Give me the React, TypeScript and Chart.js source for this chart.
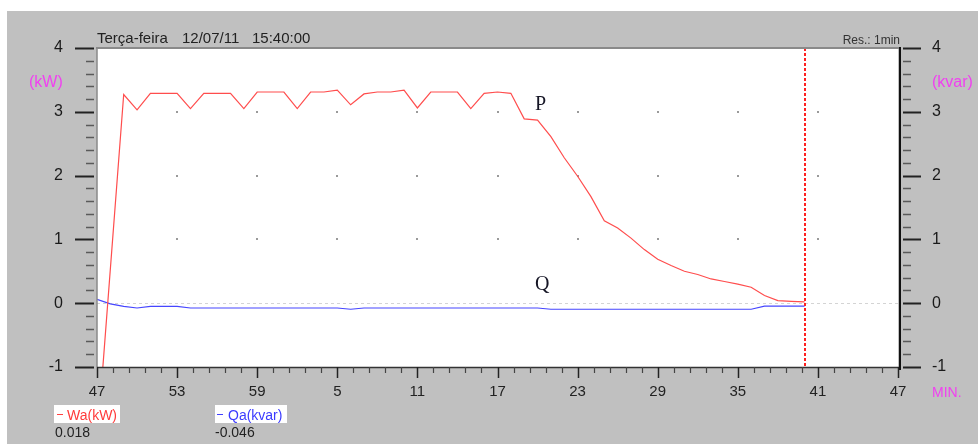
import React, { useEffect, useRef } from "react";
import { Chart, registerables } from "chart.js";

Chart.register(...registerables);

// minutes elapsed since 14:47 (axis runs 14:47 -> 15:47)
const X_START_LABEL = 47;
const X_SPAN = 60;
const X_STEP = 6;
const CURSOR_MIN = 53; // 15:40

const Y_MIN = -1;
const Y_MAX = 4;

// P (Wa, kW)
const P_MIN = [0, 2, 3, 4, 6, 7, 8, 10, 11, 12, 14, 15, 16, 17, 18, 19, 20, 21, 22, 23, 24, 25, 27, 28, 29, 30, 31, 32, 33, 34, 35, 36, 37, 38, 39, 40, 41, 42, 43, 44, 45, 46, 47, 48, 49, 50, 51, 52, 53];
const P_KW = [-2.2, 3.27, 3.03, 3.29, 3.29, 3.05, 3.29, 3.29, 3.05, 3.31, 3.31, 3.05, 3.31, 3.31, 3.34, 3.11, 3.28, 3.31, 3.31, 3.34, 3.06, 3.31, 3.31, 3.05, 3.29, 3.31, 3.29, 2.89, 2.87, 2.61, 2.28, 1.99, 1.67, 1.29, 1.18, 1.02, 0.84, 0.69, 0.59, 0.5, 0.45, 0.38, 0.34, 0.3, 0.25, 0.12, 0.04, 0.03, 0.02];

// Q (Qa, kvar)
const Q_MIN = [0, 1, 2, 3, 4, 6, 7, 18, 19, 20, 33, 34, 49, 50, 53];
const Q_KVAR = [0.06, -0.01, -0.05, -0.075, -0.05, -0.05, -0.075, -0.075, -0.095, -0.075, -0.075, -0.095, -0.095, -0.046, -0.046];

const HEADER = ["Terça-feira", "12/07/11", "15:40:00"];
const RES_TEXT = "Res.: 1min";
const LEFT_UNIT = "(kW)";
const RIGHT_UNIT = "(kvar)";
const X_UNIT = "MIN.";
const LEGEND_P = "Wa(kW)";
const LEGEND_Q = "Qa(kvar)";
const VALUE_P = "0.018";
const VALUE_Q = "-0.046";

const SANS = '"Liberation Sans", Arial, sans-serif';
const SERIF = '"Liberation Serif", "Times New Roman", serif';

export default function App() {
  const ref = useRef<HTMLCanvasElement>(null);

  useEffect(() => {
    const canvas = ref.current;
    if (!canvas) return;

    const deco = {
      id: "deco",
      beforeDraw(chart: any) {
        const ctx = chart.ctx;
        const a = chart.chartArea;
        ctx.save();
        ctx.fillStyle = "#ffffff";
        ctx.fillRect(0, 0, chart.width, chart.height);
        ctx.fillStyle = "#c0c0c0";
        ctx.fillRect(7, 11, chart.width - 7, chart.height - 11);
        ctx.fillStyle = "#ffffff";
        ctx.fillRect(a.left, a.top, a.right - a.left, a.bottom - a.top);
        ctx.restore();
      },
      beforeDatasetsDraw(chart: any) {
        const ctx = chart.ctx;
        const a = chart.chartArea;
        const xs = chart.scales.x;
        const ys = chart.scales.y;
        ctx.save();
        // zero line
        const y0 = Math.round(ys.getPixelForValue(0)) + 0.5;
        ctx.strokeStyle = "#d4d4d4";
        ctx.lineWidth = 1;
        ctx.setLineDash([3, 3]);
        ctx.beginPath();
        ctx.moveTo(a.left, y0);
        ctx.lineTo(a.right, y0);
        ctx.stroke();
        ctx.setLineDash([]);
        // grid dots
        ctx.fillStyle = "#9a9a9a";
        for (let m = X_STEP; m < X_SPAN; m += X_STEP) {
          for (let v = Y_MIN + 1; v < Y_MAX; v++) {
            if (v === 0) continue;
            const px = Math.round(xs.getPixelForValue(m));
            const py = Math.round(ys.getPixelForValue(v));
            ctx.fillRect(px - 1, py - 1, 2, 2);
          }
        }
        ctx.restore();
      },
      afterDatasetsDraw(chart: any) {
        const ctx = chart.ctx;
        const a = chart.chartArea;
        const xs = chart.scales.x;
        const ys = chart.scales.y;
        ctx.save();
        // cursor line
        const cx = Math.round(xs.getPixelForValue(CURSOR_MIN));
        ctx.strokeStyle = "#ff2020";
        ctx.lineWidth = 2;
        ctx.setLineDash([3, 2]);
        ctx.beginPath();
        ctx.moveTo(cx, a.top);
        ctx.lineTo(cx, a.bottom);
        ctx.stroke();
        ctx.setLineDash([]);

        // frame
        ctx.strokeStyle = "#8a8a8a";
        ctx.lineWidth = 2;
        ctx.beginPath();
        ctx.moveTo(a.left - 1, a.top);
        ctx.lineTo(a.right + 2, a.top);
        ctx.stroke();
        ctx.lineWidth = 1.5;
        ctx.beginPath();
        ctx.moveTo(a.left, a.top);
        ctx.lineTo(a.left, a.bottom);
        ctx.stroke();
        ctx.strokeStyle = "#333";
        ctx.lineWidth = 1.5;
        ctx.beginPath();
        ctx.moveTo(a.left, a.bottom + 0.5);
        ctx.lineTo(a.right + 2, a.bottom + 0.5);
        ctx.stroke();
        ctx.strokeStyle = "#111";
        ctx.lineWidth = 2;
        ctx.beginPath();
        ctx.moveTo(a.right + 2, a.top - 1);
        ctx.lineTo(a.right + 2, a.bottom + 3);
        ctx.stroke();

        // y ticks (left & right)
        for (let i = 0; i <= (Y_MAX - Y_MIN) * 5; i++) {
          const v = Y_MIN + i * 0.2;
          const py = Math.round(ys.getPixelForValue(v)) + 0.5;
          const major = i % 5 === 0;
          ctx.strokeStyle = major ? "#222" : "#5a5a5a";
          ctx.lineWidth = major ? 2 : 1.3;
          ctx.beginPath();
          ctx.moveTo(major ? a.left - 22 : a.left - 11, py);
          ctx.lineTo(a.left - 3, py);
          ctx.moveTo(a.right + 5, py);
          ctx.lineTo(major ? a.right + 23 : a.right + 13, py);
          ctx.stroke();
        }
        // x ticks
        for (let i = 0; i <= 50; i++) {
          const m = i * 1.2;
          const px = Math.round(xs.getPixelForValue(m)) + 0.5;
          const major = i % 5 === 0;
          ctx.strokeStyle = major ? "#222" : "#444";
          ctx.lineWidth = major ? 1.5 : 1.2;
          ctx.beginPath();
          ctx.moveTo(px, a.bottom);
          ctx.lineTo(px, a.bottom + (major ? 11 : 6));
          ctx.stroke();
        }

        // header texts
        ctx.fillStyle = "#222";
        ctx.textBaseline = "alphabetic";
        ctx.textAlign = "left";
        ctx.font = `15px ${SANS}`;
        ctx.fillText(HEADER[0], 97, 43);
        ctx.fillText(HEADER[1], 182, 43);
        ctx.fillText(HEADER[2], 252, 43);
        ctx.font = `12px ${SANS}`;
        ctx.fillStyle = "#333";
        ctx.textAlign = "right";
        ctx.fillText(RES_TEXT, 900, 44);

        // unit labels
        ctx.textAlign = "left";
        ctx.fillStyle = "#f040f0";
        ctx.font = `16px ${SANS}`;
        ctx.fillText(LEFT_UNIT, 29, 87);
        ctx.fillText(RIGHT_UNIT, 932, 87);
        ctx.font = `14px ${SANS}`;
        ctx.fillText(X_UNIT, 932, 397);

        // curve labels
        ctx.fillStyle = "#151525";
        ctx.font = `20px ${SERIF}`;
        ctx.fillText("P", xs.getPixelForValue(32.8), ys.getPixelForValue(3.03));
        ctx.fillText("Q", xs.getPixelForValue(32.8), ys.getPixelForValue(0.2));

        // legend boxes
        ctx.fillStyle = "#ffffff";
        ctx.fillRect(54, 405, 66, 18);
        ctx.fillRect(215, 405, 72, 18);
        ctx.lineWidth = 1;
        ctx.strokeStyle = "#ff4040";
        ctx.beginPath();
        ctx.moveTo(57, 414.5);
        ctx.lineTo(63, 414.5);
        ctx.stroke();
        ctx.strokeStyle = "#4040ff";
        ctx.beginPath();
        ctx.moveTo(217, 414.5);
        ctx.lineTo(223, 414.5);
        ctx.stroke();
        ctx.font = `14px ${SANS}`;
        ctx.fillStyle = "#ff3b3b";
        ctx.fillText(LEGEND_P, 67, 420);
        ctx.fillStyle = "#3b3bff";
        ctx.fillText(LEGEND_Q, 228, 420);
        ctx.fillStyle = "#222";
        ctx.fillText(VALUE_P, 55, 437);
        ctx.fillText(VALUE_Q, 215, 437);
        ctx.restore();
      },
    };

    const xFont = { family: SANS, size: 15 };
    const yFont = { family: SANS, size: 16 };

    const chart = new Chart(canvas, {
      type: "line",
      data: {
        datasets: [
          {
            label: "P",
            data: P_MIN.map((m, i) => ({ x: m, y: P_KW[i] })),
            borderColor: "#ff4d4d",
            borderWidth: 1.2,
            pointRadius: 0,
            tension: 0,
            xAxisID: "x",
            yAxisID: "y",
          },
          {
            label: "Q",
            data: Q_MIN.map((m, i) => ({ x: m, y: Q_KVAR[i] })),
            borderColor: "#4646ff",
            borderWidth: 1.2,
            pointRadius: 0,
            tension: 0,
            xAxisID: "x",
            yAxisID: "y2",
          },
        ],
      },
      options: {
        responsive: false,
        animation: false,
        devicePixelRatio: 1,
        layout: { padding: { left: 7, top: 48, right: 0, bottom: 0 } },
        plugins: { legend: { display: false }, tooltip: { enabled: false } },
        scales: {
          x: {
            type: "linear",
            position: "bottom",
            min: 0,
            max: X_SPAN,
            afterFit: (s: any) => {
              s.height = 77;
            },
            grid: { display: false, drawTicks: false },
            border: { display: false },
            ticks: {
              stepSize: X_STEP,
              autoSkip: false,
              maxRotation: 0,
              padding: 16,
              color: "#222",
              font: xFont,
              callback: (v: any) => String((X_START_LABEL + Number(v)) % 60),
            },
          },
          y: {
            type: "linear",
            position: "left",
            min: Y_MIN,
            max: Y_MAX,
            afterFit: (s: any) => {
              s.width = 90;
            },
            grid: { display: false, drawTicks: false },
            border: { display: false },
            ticks: { stepSize: 1, padding: 34, color: "#1a1a1a", font: yFont },
          },
          y2: {
            type: "linear",
            position: "right",
            min: Y_MIN,
            max: Y_MAX,
            afterFit: (s: any) => {
              s.width = 80;
            },
            grid: { display: false, drawTicks: false },
            border: { display: false },
            ticks: { stepSize: 1, padding: 34, color: "#1a1a1a", font: yFont },
          },
        },
      },
      plugins: [deco],
    } as any);

    return () => chart.destroy();
  }, []);

  return (
    <div style={{ position: "absolute", left: 0, top: 0, width: 978, height: 444 }}>
      <canvas ref={ref} width={978} height={444} />
    </div>
  );
}
